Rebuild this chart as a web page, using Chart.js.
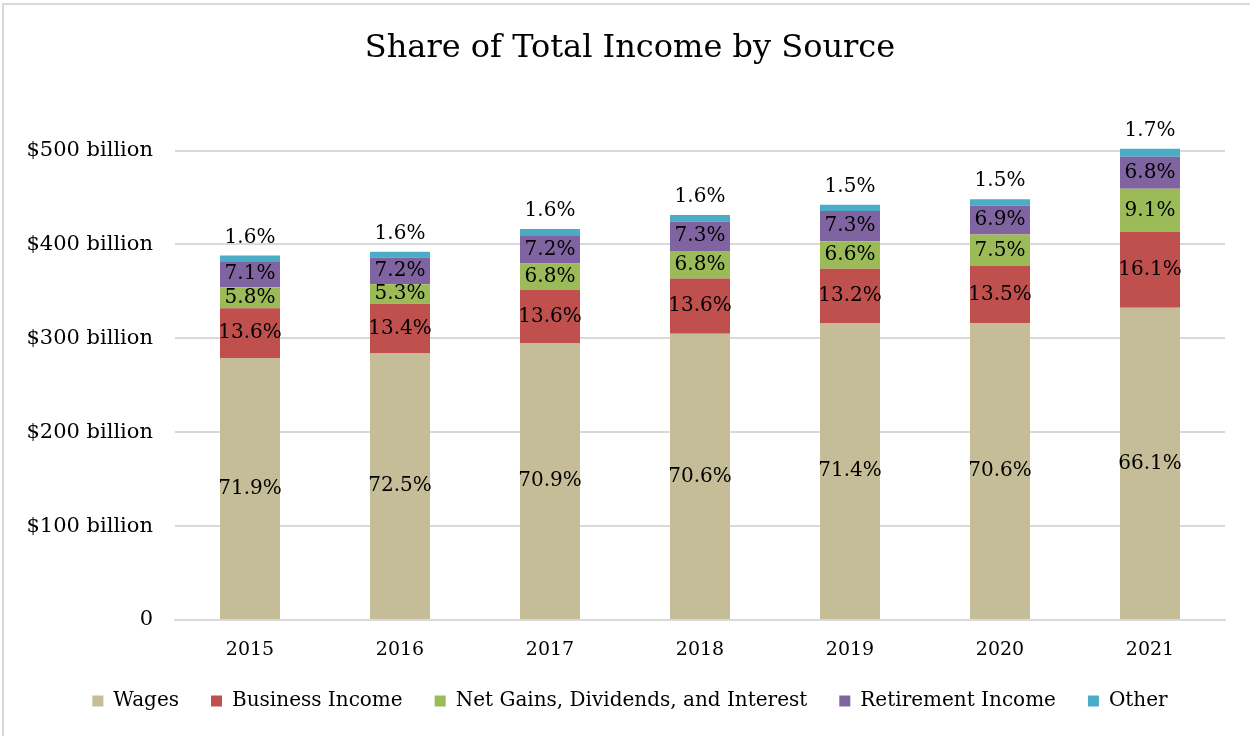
<!DOCTYPE html>
<html>
<head>
<meta charset="utf-8">
<title>Share of Total Income by Source</title>
<script src="https://cdn.jsdelivr.net/npm/chart.js@4.4.1/dist/chart.umd.min.js"></script>
<style>
  html, body { margin: 0; padding: 0; background: #fff; overflow: hidden; }
  #wrap { position: relative; width: 1250px; height: 736px; overflow: hidden; }
  #frame {
    position: absolute; left: 2px; top: 3px; right: -20px; bottom: -20px;
    border-left: 2px solid #d9d9d9; border-top: 2px solid #d9d9d9;
    pointer-events: none;
  }
</style>
</head>
<body>
<div id="wrap">
  <canvas id="grafico" width="1250" height="736"></canvas>
  <div id="frame"></div>
</div>
<script>
// Anos e totais (mil milhões de dólares)
const years = ['2015', '2016', '2017', '2018', '2019', '2020', '2021'];
const totals = [388.3, 392.2, 416.0, 431.9, 442.2, 448.2, 503.0];

// Percentagem de cada fonte no total
const wagesPct = [71.9, 72.5, 70.9, 70.6, 71.4, 70.6, 66.1];
const businessPct = [13.6, 13.4, 13.6, 13.6, 13.2, 13.5, 16.1];
const gainsPct = [5.8, 5.3, 6.8, 6.8, 6.6, 7.5, 9.1];
const retirementPct = [7.1, 7.2, 7.2, 7.3, 7.3, 6.9, 6.8];
const otherPct = [1.6, 1.6, 1.6, 1.6, 1.5, 1.5, 1.7];

// Marcas do eixo y
const yTicks = [0, 100, 200, 300, 400, 500];

const FONTE = "'DejaVu Serif', Georgia, serif";

// Valor em mil milhões a partir da percentagem
function emBilioes(pcts) {
    return pcts.map((p, i) => totals[i] * p / 100);
}

const series = [
    { label: 'Wages', pct: wagesPct, cor: '#c4bd97' },
    { label: 'Business Income', pct: businessPct, cor: '#c0504d' },
    { label: 'Net Gains, Dividends, and Interest', pct: gainsPct, cor: '#9bbb59' },
    { label: 'Retirement Income', pct: retirementPct, cor: '#8064a2' },
    { label: 'Other', pct: otherPct, cor: '#4bacc6' }
];

// Etiquetas com as percentagens
const etiquetas = {
    id: 'etiquetas',
    afterDatasetsDraw(chart) {
        const ctx = chart.ctx;
        ctx.save();
        ctx.font = '20px ' + FONTE;
        ctx.fillStyle = '#000';
        ctx.textAlign = 'center';
        ctx.textBaseline = 'middle';
        chart.data.datasets.forEach((ds, i) => {
            const meta = chart.getDatasetMeta(i);
            meta.data.forEach((bar, j) => {
                const txt = ds.pct[j].toFixed(1) + '%';
                const ultimo = i === chart.data.datasets.length - 1;
                const y = ultimo ? bar.y - 18 : (bar.y + bar.base) / 2;
                ctx.fillText(txt, bar.x, y);
            });
        });
        ctx.restore();
    }
};

new Chart(document.getElementById('grafico'), {
    type: 'bar',
    data: {
        labels: years,
        datasets: series.map(s => ({
            label: s.label,
            data: emBilioes(s.pct),
            pct: s.pct,
            backgroundColor: s.cor,
            borderWidth: 0,
            categoryPercentage: 1,
            barPercentage: 0.4
        }))
    },
    options: {
        responsive: false,
        animation: false,
        layout: { padding: { left: 10, right: 0, top: 0, bottom: 15 } },
        plugins: {
            title: {
                display: true,
                text: 'Share of Total Income by Source',
                color: '#000',
                font: { family: FONTE, size: 32, weight: 'normal' },
                padding: { top: 29, bottom: 55 }
            },
            legend: {
                position: 'bottom',
                labels: {
                    color: '#000',
                    font: { family: FONTE, size: 20 },
                    boxWidth: 11,
                    boxHeight: 11,
                    padding: 32
                }
            },
            tooltip: { enabled: false }
        },
        scales: {
            x: {
                stacked: true,
                grid: { display: false },
                border: { color: '#d9d9d9', width: 2 },
                ticks: { color: '#000', font: { family: FONTE, size: 19 }, padding: 11 },
                afterFit(scale) { scale.height = 39; }
            },
            y: {
                stacked: true,
                min: 0,
                max: 530,
                afterBuildTicks(scale) {
                    scale.ticks = yTicks.map(v => ({ value: v }));
                },
                afterFit(scale) { scale.width = 165; },
                grid: { color: '#d9d9d9', lineWidth: 2, drawTicks: false },
                border: { display: false },
                ticks: {
                    color: '#000',
                    font: { family: FONTE, size: 21 },
                    padding: 22,
                    callback: v => v === 0 ? '0' : '$' + v + ' billion'
                }
            },
            // margem à direita da área do gráfico
            margem: {
                position: 'right',
                min: 0,
                max: 530,
                grid: { display: false },
                border: { display: false },
                ticks: { display: false },
                afterFit(scale) { scale.width = 25; }
            }
        }
    },
    plugins: [etiquetas]
});
</script>
</body>
</html>
